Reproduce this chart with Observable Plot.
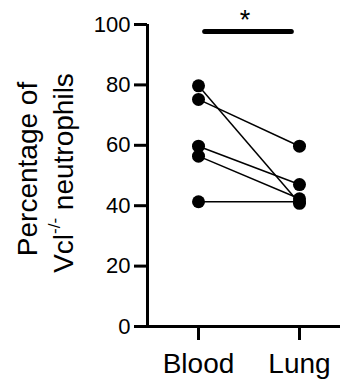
<!DOCTYPE html>
<html><head><meta charset="utf-8">
<script src="https://cdn.jsdelivr.net/npm/d3@7"></script>
<script src="https://cdn.jsdelivr.net/npm/@observablehq/plot@0.6"></script>
<style>body{margin:0;background:#fff}</style>
</head><body><div id="chart"></div>
<script>
const categories = ["Blood", "Lung"];
const blood = [79.7, 75.2, 59.7, 56.4, 41.3];
const lung = [40.8, 59.7, 47.0, 42.3, 41.3];
const yTicks = [0, 20, 40, 60, 80, 100];
const yTitle1 = "Percentage of";
const yTitle2 = ["Vcl", "-/-", " neutrophils"];
const sigLabel = "*";
const sig = {from: 0.061, to: 0.919, mid: 0.46, y: 97.7};

const pairs = blood.map((b, i) => ({blood: b, lung: lung[i]}));
const points = [...blood.map(v => ({x: 0, y: v})), ...lung.map(v => ({x: 1, y: v}))];

const xDomain = [-0.505, 1.406];
const font = "'Liberation Sans', Arial, Helvetica, sans-serif";

const chart = Plot.plot({
  width: 347, height: 387,
  marginLeft: 147, marginRight: 7, marginTop: 24, marginBottom: 61,
  style: {fontFamily: font, color: "#000", background: "#fff", overflow: "visible"},
  x: {domain: xDomain},
  y: {domain: [0, 100]},
  marks: [
    Plot.axisY({ticks: yTicks, tickSize: 13, tickPadding: 4, fontSize: 22, strokeWidth: 3, tickFormat: d => d, label: null}),
    Plot.axisX({ticks: [0, 1], tickSize: 14, tickPadding: 13, fontSize: 28, strokeWidth: 3, tickFormat: i => categories[i], label: null}),
    Plot.ruleX([xDomain[0]], {y1: 0, y2: 100, stroke: "#000", strokeWidth: 3}),
    Plot.ruleY([0], {x1: xDomain[0], x2: xDomain[1], stroke: "#000", strokeWidth: 3}),
    Plot.link(pairs, {x1: () => 0, x2: () => 1, y1: "blood", y2: "lung", stroke: "#000", strokeWidth: 1.5}),
    Plot.dot(points, {x: "x", y: "y", r: 6.5, fill: "#000", stroke: "none"}),
    Plot.link([sig], {x1: "from", x2: "to", y1: "y", y2: "y", stroke: "#000", strokeWidth: 5, strokeLinecap: "round"}),
    Plot.text([sig], {x: "mid", y: "y", text: () => sigLabel, dy: -11, fontSize: 27, fill: "#000"})
  ]
});
document.getElementById("chart").appendChild(chart);

const svg = d3.select(chart);
const g = svg.append("g").attr("font-family", font).attr("font-size", 28).attr("fill", "#000").attr("text-anchor", "middle");
g.append("text").attr("transform", "translate(36.5,169) rotate(-90)").text(yTitle1);
const t2 = g.append("text").attr("transform", "translate(73,173) rotate(-90)");
t2.append("tspan").text(yTitle2[0]);
t2.append("tspan").attr("font-size", 17).attr("dy", "-0.75em").text(yTitle2[1]);
t2.append("tspan").attr("dy", "0.45em").text(yTitle2[2]);
</script></body></html>
